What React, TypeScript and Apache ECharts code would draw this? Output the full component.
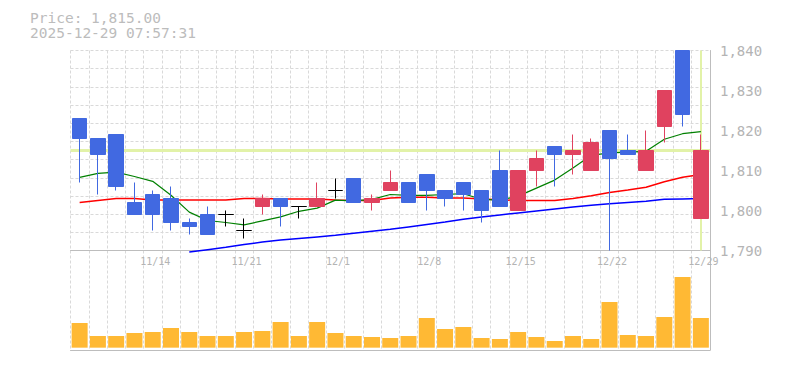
import React, { useEffect, useRef } from 'react';
import * as echarts from 'echarts';

const DATES = [
  '11/10', '11/11', '11/12', '11/13', '11/14',
  '11/17', '11/18', '11/19', '11/20', '11/21',
  '11/25', '11/26', '11/27', '11/28', '12/1',
  '12/2', '12/3', '12/4', '12/5', '12/8',
  '12/9', '12/10', '12/11', '12/12', '12/15',
  '12/16', '12/17', '12/18', '12/19', '12/22',
  '12/23', '12/24', '12/25', '12/26', '12/29',
];
const TICK_LABELS = ['11/14', '11/21', '12/1', '12/8', '12/15', '12/22', '12/29'];

const OPEN = [1823, 1818, 1819, 1802, 1804, 1803, 1797, 1799, 1799, 1795, 1801, 1803, 1801, 1801, 1805, 1808, 1802, 1805, 1807, 1809, 1805, 1807, 1805, 1810, 1800, 1810, 1816, 1814, 1810, 1820, 1815, 1810, 1821, 1840, 1798];
const HIGH = [1823, 1818, 1819, 1807, 1805, 1806, 1798, 1801, 1800, 1798, 1804, 1803, 1801, 1807, 1808, 1808, 1804, 1810, 1807, 1809, 1805, 1807, 1805, 1815, 1810, 1815, 1816, 1819, 1818, 1820, 1819, 1820, 1830, 1840, 1819];
const LOW = [1807, 1804, 1805, 1799, 1795, 1795, 1794, 1794, 1796, 1793, 1799, 1796, 1798, 1801, 1803, 1802, 1800, 1805, 1802, 1800, 1801, 1800, 1797, 1801, 1800, 1806, 1806, 1809, 1810, 1790, 1814, 1810, 1817, 1821, 1798];
const CLOSE = [1818, 1814, 1806, 1799, 1799, 1797, 1796, 1794, 1799, 1795, 1803, 1801, 1801, 1803, 1805, 1802, 1803, 1807, 1802, 1805, 1803, 1804, 1800, 1801, 1810, 1813, 1814, 1815, 1817, 1813, 1814, 1815, 1830, 1824, 1815];

const VOLUME = [7400, 3500, 3500, 4400, 4700, 5900, 4700, 3500, 3500, 4700, 5000, 7700, 3500, 7700, 4400, 3500, 3200, 2900, 3500, 8900, 5600, 6200, 2900, 2600, 4700, 3200, 2000, 3500, 2600, 13700, 3800, 3500, 9200, 21200, 8900];

const MA5 = [1808.3, 1809.3, 1809.6, 1808.5, 1807.3, 1803.8, 1799.6, 1797.5, 1797.0, 1796.4, 1797.4, 1798.4, 1799.8, 1800.6, 1802.6, 1802.4, 1802.8, 1804.0, 1803.8, 1803.8, 1804.0, 1804.2, 1802.8, 1802.6, 1803.6, 1805.6, 1807.6, 1810.6, 1813.8, 1814.4, 1814.6, 1814.8, 1817.8, 1819.2, 1819.7];
const MA25 = [1802.0, 1802.5, 1803.0, 1803.0, 1802.6, 1802.6, 1802.6, 1802.6, 1802.6, 1803.0, 1803.0, 1802.9, 1802.9, 1802.9, 1802.6, 1802.5, 1802.5, 1803.1, 1803.3, 1803.3, 1803.1, 1803.1, 1802.9, 1802.7, 1802.5, 1802.5, 1802.5, 1803.0, 1803.7, 1804.5, 1805.1, 1805.8, 1807.2, 1808.3, 1809.0];
const MA75 = [null, null, null, null, null, null, 1789.6, 1790.2, 1790.8, 1791.5, 1792.1, 1792.6, 1793.0, 1793.4, 1793.8, 1794.3, 1794.8, 1795.3, 1795.9, 1796.5, 1797.1, 1797.8, 1798.4, 1798.9, 1799.4, 1799.9, 1800.4, 1800.9, 1801.3, 1801.7, 1802.0, 1802.3, 1802.8, 1802.9, 1803.0];

const LAST_PRICE = 1815;
const LAST_DATE = '12/29';
const PRICE_TEXT = 'Price: 1,815.00';
const TIME_TEXT = '2025-12-29 07:57:31';

const FONT = '"DejaVu Sans Mono", "Liberation Mono", monospace';
const UP = '#e0425f';
const DOWN = '#4169e1';
const GRID_DASH = '#d9d9d9';
const AXIS = '#bdbdbd';
const TEXT = '#b4b4b4';
const CROSS = '#e2f2a8';

export default function App() {
  const ref = useRef<HTMLDivElement>(null);

  useEffect(() => {
    if (!ref.current) return;
    const chart = echarts.init(ref.current, undefined, { renderer: 'svg' });
    const candles = DATES.map((_, i) => [OPEN[i], CLOSE[i], LOW[i], HIGH[i]]);
    const gridPos = { left: 70.5, width: 639.5 };

    chart.setOption({
      animation: false,
      textStyle: { fontFamily: FONT },
      graphic: [
        {
          type: 'text', left: 30, top: 10,
          style: { text: PRICE_TEXT, fill: '#bcbcbc', font: `14.5px ${FONT}` },
        },
        {
          type: 'text', left: 30, top: 25,
          style: { text: TIME_TEXT, fill: '#bcbcbc', font: `14.5px ${FONT}` },
        },
      ],
      grid: [
        { ...gridPos, top: 50.5, height: 200 },
        { ...gridPos, top: 275, height: 75 },
        { ...gridPos, top: 50.5, height: 299.5 },
      ],
      xAxis: [
        {
          gridIndex: 0, type: 'category', data: DATES, boundaryGap: true,
          axisLine: { show: true, onZero: false, lineStyle: { color: AXIS, width: 1 } },
          axisTick: { show: false },
          splitLine: { show: false },
          axisLabel: {
            interval: (_i: number, v: string) => TICK_LABELS.includes(v),
            color: TEXT, fontSize: 10, fontFamily: FONT, margin: 6,
            padding: [0, 0, 0, 5],
          },
        },
        { gridIndex: 1, type: 'category', data: DATES, boundaryGap: true, show: false },
        {
          gridIndex: 2, type: 'category', data: DATES, boundaryGap: true,
          axisLine: { show: true, onZero: false, lineStyle: { color: AXIS, width: 1 } },
          axisTick: { show: false },
          axisLabel: { show: false },
          splitLine: {
            show: true, interval: 0, showMaxLine: false,
            lineStyle: { color: GRID_DASH, type: [3, 2], width: 1 },
          },
        },
      ],
      yAxis: [
        {
          gridIndex: 0, type: 'value', position: 'right', min: 1790, max: 1840, interval: 10,
          axisLine: { show: false }, axisTick: { show: false }, splitLine: { show: false },
          axisLabel: {
            color: TEXT, fontSize: 14, fontFamily: FONT, margin: 10,
            padding: [6, 0, 0, 0],
            formatter: (v: number) => v.toLocaleString('en-US'),
          },
        },
        {
          gridIndex: 0, type: 'value', position: 'left', min: 0, max: 11, interval: 1,
          axisLine: { show: false }, axisTick: { show: false }, axisLabel: { show: false },
          splitLine: {
            show: true, showMinLine: false,
            lineStyle: { color: GRID_DASH, type: [3, 2], width: 1 },
          },
        },
        { gridIndex: 1, type: 'value', min: -700, max: 21800, show: false },
        {
          gridIndex: 2, type: 'value', position: 'right', min: 0, max: 1,
          axisLine: { show: true, onZero: false, lineStyle: { color: AXIS, width: 1 } },
          axisTick: { show: false }, axisLabel: { show: false }, splitLine: { show: false },
        },
      ],
      series: [
        {
          name: 'MA75', type: 'line', xAxisIndex: 0, yAxisIndex: 0, data: MA75,
          showSymbol: false, symbol: 'none', clip: false, z: 3,
          lineStyle: { color: '#0000ff', width: 1.5 },
          markLine: {
            z: 1, silent: true, symbol: 'none', label: { show: false },
            data: [
              { yAxis: LAST_PRICE, lineStyle: { color: CROSS, width: 3, type: 'solid' } },
              { xAxis: LAST_DATE, lineStyle: { color: CROSS, width: 2, type: 'solid' } },
            ],
          },
        },
        {
          name: 'MA25', type: 'line', xAxisIndex: 0, yAxisIndex: 0, data: MA25,
          showSymbol: false, symbol: 'none', z: 3,
          lineStyle: { color: '#ff0000', width: 1.5 },
        },
        {
          name: 'MA5', type: 'line', xAxisIndex: 0, yAxisIndex: 0, data: MA5,
          showSymbol: false, symbol: 'none', z: 3,
          lineStyle: { color: '#008000', width: 1.2 },
        },
        {
          name: 'Price', type: 'candlestick', xAxisIndex: 0, yAxisIndex: 0, data: candles,
          barWidth: 15, z: 4,
          itemStyle: {
            color: UP, color0: DOWN, borderColor: UP, borderColor0: DOWN,
            borderColorDoji: '#000000', borderWidth: 1,
          },
        },
        {
          name: 'Volume', type: 'bar', xAxisIndex: 1, yAxisIndex: 2, data: VOLUME,
          barWidth: 16, itemStyle: { color: '#ffb934' }, z: 2,
        },
      ],
    });

    return () => chart.dispose();
  }, []);

  return (
    <div
      ref={ref}
      style={{ position: 'fixed', left: 0, top: 0, width: 785, height: 370, background: '#ffffff' }}
    />
  );
}
